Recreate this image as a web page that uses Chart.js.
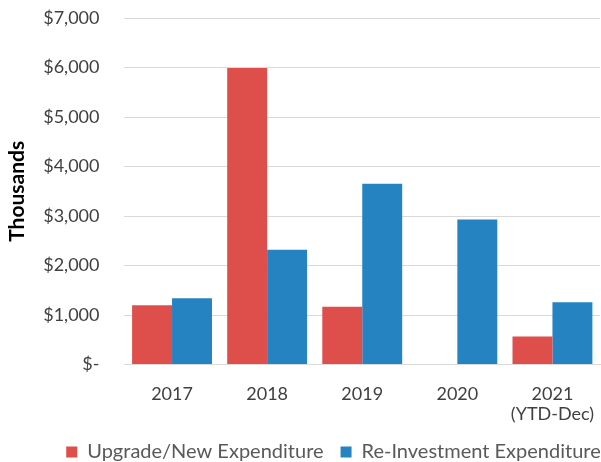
<!DOCTYPE html>
<html>
<head>
<meta charset="utf-8">
<script src="https://cdn.jsdelivr.net/npm/chart.js@4/dist/chart.umd.min.js"></script>
<style>
  html, body { margin: 0; padding: 0; background: #fff; }
  #wrap { width: 601px; height: 462px; }
</style>
</head>
<body>
<div id="wrap"><canvas id="c" width="601" height="462"></canvas></div>
<script>
const categories = [['2017'], ['2018'], ['2019'], ['2020'], ['2021', '(YTD-Dec)']];
const upgradeNew = [1200, 5990, 1170, 0, 565];
const reInvestment = [1340, 2320, 3650, 2930, 1260];
const seriesNames = ['Upgrade/New Expenditure', 'Re-Investment Expenditure'];
const yTicks = [0, 1000, 2000, 3000, 4000, 5000, 6000, 7000];

const font = 'Lato, "Open Sans", sans-serif';
const tickColor = '#404040';
const legendColor = '#595959';

const legendShift = {
  id: 'legendShift',
  afterLayout(chart) {
    const lg = chart.legend;
    if (lg) { lg.left += 31; lg.right += 31; }
  }
};

new Chart(document.getElementById('c'), {
  type: 'bar',
  data: {
    labels: categories,
    datasets: [
      { label: seriesNames[0], data: upgradeNew, backgroundColor: '#DE4F4B', borderWidth: 0 },
      { label: seriesNames[1], data: reInvestment, backgroundColor: '#2683C2', borderWidth: 0 }
    ]
  },
  plugins: [legendShift],
  options: {
    responsive: false,
    animation: false,
    layout: { padding: { top: 18, right: 1, left: 5, bottom: 0 } },
    datasets: { bar: { categoryPercentage: 0.84, barPercentage: 1.0 } },
    plugins: {
      legend: {
        position: 'bottom',
        maxHeight: 37,
        labels: { boxWidth: 11, boxHeight: 11, color: legendColor, font: { family: font, size: 20 }, padding: 17 }
      },
      tooltip: { enabled: false }
    },
    scales: {
      x: {
        grid: { display: true, drawOnChartArea: false, drawTicks: true, tickLength: 19, tickColor: 'rgba(0,0,0,0)' },
        border: { color: '#d9d9d9', width: 1 },
        ticks: { color: tickColor, font: { family: font, size: 18, lineHeight: 1.15 }, padding: 0 }
      },
      y: {
        min: 0, max: 7000,
        afterBuildTicks: (axis) => { axis.ticks = yTicks.map(v => ({ value: v })); },
        grid: { color: '#d9d9d9', lineWidth: 1, drawTicks: true, tickLength: 21, tickColor: 'rgba(0,0,0,0)' },
        border: { display: false },
        title: { display: true, text: 'Thousands', color: '#000', font: { family: font, size: 21, weight: 'bold' }, padding: { top: 0, bottom: 9 } },
        ticks: {
          color: tickColor, font: { family: font, size: 18 }, padding: 4,
          callback: (v) => v === 0 ? '$-' : '$' + v.toLocaleString('en-US')
        }
      }
    }
  }
});
</script>
</body>
</html>
